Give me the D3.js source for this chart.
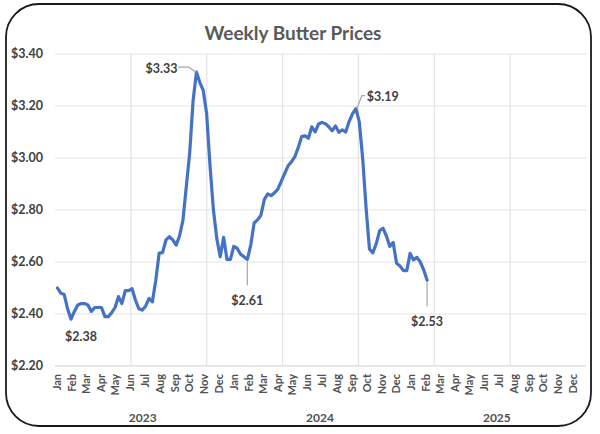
<!DOCTYPE html>
<html><head><meta charset="utf-8">
<script src="https://cdn.jsdelivr.net/npm/d3@7"></script>
<style>
html,body{margin:0;padding:0;background:#fff;}
svg{display:block;}
text{font-family:Lato,"Open Sans",sans-serif;}
</style></head>
<body><svg id="c" width="600" height="434"></svg>
<script>
// ---- data ----
const title = "Weekly Butter Prices";
const firstWeek = "2023-01-06"; // weekly observations start
const prices = [
 2.50,2.48,2.475,2.42,2.38,2.41,2.435,2.44,2.44,2.435,
 2.41,2.425,2.425,2.425,2.39,2.39,2.405,2.425,2.467,2.44,
 2.49,2.49,2.497,2.454,2.42,2.415,2.43,2.46,2.447,2.53,
 2.634,2.636,2.685,2.697,2.685,2.665,2.70,2.76,2.89,3.02,
 3.22,3.33,3.29,3.26,3.17,2.97,2.80,2.69,2.62,2.695,
 2.61,2.61,2.66,2.653,2.63,2.62,2.61,2.665,2.75,2.762,
 2.78,2.84,2.862,2.855,2.866,2.88,2.91,2.94,2.97,2.985,
 3.005,3.04,3.082,3.085,3.076,3.12,3.10,3.131,3.137,3.132,
 3.12,3.105,3.123,3.099,3.108,3.10,3.14,3.17,3.19,3.14,
 3.00,2.81,2.65,2.635,2.67,2.72,2.73,2.70,2.66,2.675,
 2.595,2.585,2.567,2.567,2.633,2.608,2.618,2.60,2.57,2.53
];
const yTicks = [2.20,2.40,2.60,2.80,3.00,3.20,3.40];
const monthNames = ["Jan","Feb","Mar","Apr","May","Jun","Jul","Aug","Sep","Oct","Nov","Dec"];
const years = [2023,2024,2025];
// annotated weeks (index into prices) and label placement side
const annotations = [
  {i:4,  label:"$2.38", side:"belowRight"},
  {i:41, label:"$3.33", side:"left"},
  {i:56, label:"$2.61", side:"below"},
  {i:88, label:"$3.19", side:"right"},
  {i:109,label:"$2.53", side:"below"}
];

// ---- layout ----
const svg = d3.select("#c");
const L = 55, R = 586, T = 54, B = 366;

const parse = d3.timeParse("%Y-%m-%d");
const start = parse(firstWeek);
const dates = prices.map((_, k) => d3.timeDay.offset(start, 7*k));
const data = prices.map((v,k)=>({date:dates[k], v}));

const x = d3.scaleTime().domain([new Date(2023,0,1), new Date(2026,0,1)]).range([L, R]);
const y = d3.scaleLinear().domain([2.2, 3.4]).range([B, T]);

// outer rounded frame
svg.append("rect").attr("x",6).attr("y",4).attr("width",585).attr("height",422)
  .attr("rx",33).attr("ry",33).attr("fill","#fff").attr("stroke","#1a1a1a").attr("stroke-width",1.8);

// title
svg.append("text").attr("x",293).attr("y",40).attr("text-anchor","middle")
  .attr("font-size",19).attr("font-weight","bold").attr("fill","#595959").text(title);

// horizontal gridlines
svg.append("g").selectAll("line").data(yTicks).join("line")
  .attr("x1",L).attr("x2",R).attr("y1",d=>y(d)).attr("y2",d=>y(d))
  .attr("stroke",d=>d===2.2?"#d0d0d0":"#e3e3e3").attr("stroke-width",1.2);

// vertical gridlines (7 equal divisions of the plot)
const vx = d3.range(1,7).map(i => L + i*(R-L)/7);
svg.append("g").selectAll("line").data(vx).join("line")
  .attr("x1",d=>d).attr("x2",d=>d).attr("y1",T).attr("y2",B)
  .attr("stroke","#e3e3e3").attr("stroke-width",1.2);

// y labels
svg.append("g").selectAll("text").data(yTicks).join("text")
  .attr("x",43).attr("y",d=>y(d)).attr("dy","0.35em").attr("text-anchor","end")
  .attr("font-size",12.5).attr("font-weight","bold").attr("fill","#404040")
  .text(d=>"$"+d.toFixed(2));

// month labels
const months = d3.timeMonth.range(new Date(2023,0,1), new Date(2026,0,1));
svg.append("g").selectAll("text").data(months).join("text")
  .attr("transform",d=>`translate(${x(d)+2},374) rotate(-90)`)
  .attr("dy","0.36em").attr("text-anchor","end")
  .attr("font-size",11).attr("font-weight","bold").attr("fill","#505050")
  .text(d=>monthNames[d.getMonth()]);

// year labels
svg.append("g").selectAll("text").data(years).join("text")
  .attr("x",d=>x(new Date(d,6,1))).attr("y",422).attr("text-anchor","middle")
  .attr("font-size",12).attr("font-weight","bold").attr("fill","#505050")
  .text(d=>d);

// line
const line = d3.line().x(d=>x(d.date)).y(d=>y(d.v));
svg.append("path").datum(data).attr("d",line).attr("fill","none")
  .attr("stroke","#4472C4").attr("stroke-width",3.2).attr("stroke-linejoin","round").attr("stroke-linecap","round");

// annotations
const ag = svg.append("g");
annotations.forEach(a=>{
  const px = x(dates[a.i]), py = y(prices[a.i]);
  const t = ag.append("text").attr("font-size",12.5).attr("font-weight","bold").attr("fill","#404040").text(a.label);
  if (a.side==="left"){
    t.attr("x",px-19).attr("y",py-4).attr("text-anchor","end");
    ag.append("path").attr("d",`M${px-18},${py-5}H${px-8}L${px},${py}`).attr("fill","none").attr("stroke","#a6a6a6").attr("stroke-width",1.2);
  } else if (a.side==="right"){
    t.attr("x",px+11).attr("y",py-12).attr("text-anchor","start");
    ag.append("path").attr("d",`M${px+9},${py-13}H${px+6}L${px+1},${py}`).attr("fill","none").attr("stroke","#a6a6a6").attr("stroke-width",1.2);
  } else if (a.side==="below"){
    t.attr("x",px).attr("y",py+41).attr("text-anchor","middle");
    ag.append("path").attr("d",`M${px},${py+2}V${py+26}`).attr("fill","none").attr("stroke","#a6a6a6").attr("stroke-width",1.2);
  } else {
    t.attr("x",px+10).attr("y",py+17).attr("text-anchor","middle");
  }
  t.attr("dy","0.35em");
});
</script></body></html>
